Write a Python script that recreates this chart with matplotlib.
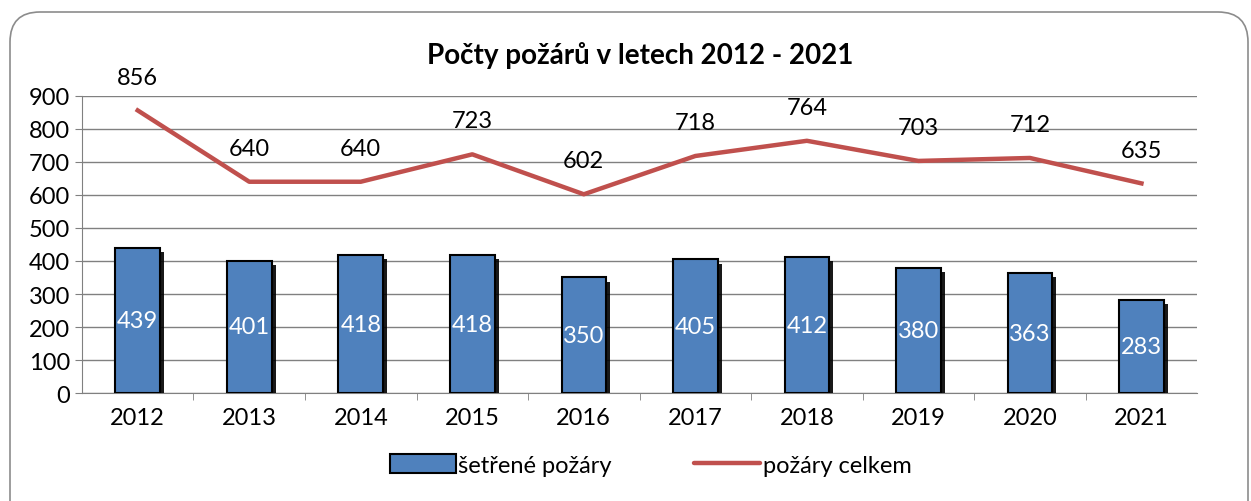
import matplotlib.pyplot as plt
import matplotlib.patheffects as pe
from matplotlib.patches import FancyBboxPatch, Patch
from matplotlib.lines import Line2D
import numpy as np

plt.rcParams['font.family'] = ['Lato', 'DejaVu Sans']

roky = ['2012', '2013', '2014', '2015', '2016', '2017', '2018', '2019', '2020', '2021']
setrene = [439, 401, 418, 418, 350, 405, 412, 380, 363, 283]
celkem = [856, 640, 640, 723, 602, 718, 764, 703, 712, 635]

fig = plt.figure(figsize=(12.51, 5.02), dpi=100)
ax = fig.add_axes([0.0655, 0.215, 0.8915, 0.592])

# ramecek kolem grafu (v palcich, at jsou rohy kulate)
ramecek = FancyBboxPatch((0.10, -0.5), 12.38, 5.39, boxstyle="round,pad=0,rounding_size=0.3",
                         transform=fig.dpi_scale_trans, facecolor='none', edgecolor='#8c8c8c',
                         linewidth=1.2)
fig.patches.append(ramecek)

x = np.arange(len(roky))
sloupce = ax.bar(x, setrene, width=0.4, color='#4F81BD', edgecolor='black', linewidth=1.5, zorder=3)
for s in sloupce:
    s.set_path_effects([pe.SimplePatchShadow(offset=(3, -3), shadow_rgbFace='black', alpha=0.9), pe.Normal()])
for xi, v in zip(x, setrene):
    ax.text(xi, v / 2, str(v), ha='center', va='center', color='white', fontsize=17, zorder=5)

ax.plot(x, celkem, color='#C0504D', linewidth=3.2, zorder=4)
for xi, v in zip(x, celkem):
    ax.annotate(str(v), (xi, v), xytext=(0, 24), textcoords='offset points',
                ha='center', va='center', fontsize=17, annotation_clip=False)

ax.set_xlim(-0.5, len(roky) - 0.5)
ax.set_ylim(0, 900)
ax.set_yticks(range(0, 901, 100))
ax.set_xticks(x)
ax.set_xticklabels(roky)
ax.tick_params(axis='both', labelsize=17, color='#808080', length=5)
ax.tick_params(axis='x', length=0, pad=10)
ax.set_xticks(np.arange(0.5, len(roky) - 0.5), minor=True)
ax.tick_params(axis='x', which='minor', length=5, color='#808080')
ax.grid(axis='y', color='#808080', linewidth=1, zorder=0)
ax.set_axisbelow(True)
for strana in ['top', 'right']:
    ax.spines[strana].set_visible(False)
for strana in ['left', 'bottom']:
    ax.spines[strana].set_color('#808080')

fig.text(0.512, 0.89, 'Počty požárů v letech 2012 - 2021', ha='center', va='center',
         fontsize=20, fontweight='bold')

handles = [Patch(facecolor='#4F81BD', edgecolor='black', linewidth=1.5),
           Line2D([], [], color='#C0504D', linewidth=3.2, solid_capstyle='round')]
fig.legend(handles, ['šetřené požáry', 'požáry celkem'], loc='center', bbox_to_anchor=(0.52, 0.072),
           ncol=2, frameon=False, fontsize=17, handlelength=2.8, handleheight=0.9,
           handletextpad=0.1, columnspacing=3.5)

fig.savefig('out.png', dpi=100)
